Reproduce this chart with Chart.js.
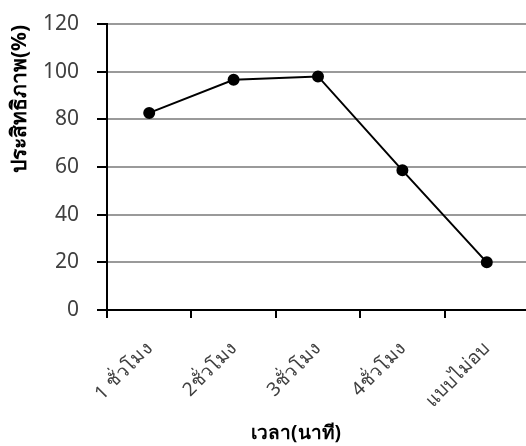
<!DOCTYPE html>
<html>
<head>
<meta charset="utf-8">
<script src="https://cdn.jsdelivr.net/npm/chart.js@4/dist/chart.umd.min.js"></script>
<style>
  html, body { margin: 0; padding: 0; background: #fff; overflow: hidden; }
  #wrap { width: 536px; height: 446px; }
</style>
</head>
<body>
<div id="wrap"><canvas id="c" width="536" height="446"></canvas></div>
<script>
// Drying time categories and measured efficiency (%)
const timeLabels = ['1 ชั่วโมง', '2ชั่วโมง', '3ชั่วโมง', '4ชั่วโมง', 'แบบไม่อบ'];
const efficiency = [82.7, 96.6, 98.0, 58.6, 20.0];
const yTickValues = [0, 20, 40, 60, 80, 100, 120];

const xTitle = 'เวลา(นาที)';
const yTitle = 'ประสิทธิภาพ(%)';
const fontFamily = "'Noto Sans', 'DejaVu Sans', sans-serif";

// Axis titles drawn relative to the chart area
const axisTitles = {
  id: 'axisTitles',
  afterDraw(chart) {
    const { ctx, chartArea } = chart;
    ctx.save();
    ctx.fillStyle = '#000';
    ctx.textAlign = 'center';
    ctx.textBaseline = 'middle';
    ctx.font = `bold 19px ${fontFamily}`;
    ctx.fillText(xTitle, chartArea.left + 189, 434);
    ctx.font = `bold 21px ${fontFamily}`;
    ctx.translate(20, chartArea.top + 75);
    ctx.rotate(-Math.PI / 2);
    ctx.fillText(yTitle, 0, 0);
    ctx.restore();
  }
};

new Chart(document.getElementById('c'), {
  type: 'line',
  data: {
    labels: timeLabels,
    datasets: [{
      data: efficiency,
      borderColor: '#000',
      backgroundColor: '#000',
      borderWidth: 2,
      pointRadius: 5,
      pointHoverRadius: 5,
      pointBackgroundColor: '#000',
      pointBorderColor: '#000',
      tension: 0,
      fill: false
    }]
  },
  options: {
    responsive: false,
    animation: false,
    devicePixelRatio: 1,
    layout: { padding: { top: 24, right: 0, left: 0, bottom: 0 } },
    plugins: { legend: { display: false }, tooltip: { enabled: false } },
    scales: {
      x: {
        offset: true,
        grid: {
          offset: true,
          drawOnChartArea: false,
          drawTicks: true,
          tickLength: 8,
          tickColor: '#000',
          tickWidth: 2,
          lineWidth: 2,
          color: '#000'
        },
        border: { display: true, color: '#000', width: 2 },
        ticks: {
          minRotation: 45,
          maxRotation: 45,
          padding: 20,
          color: '#404040',
          font: { family: fontFamily, size: 19 }
        },
        afterFit(scale) {
          scale.height = 136;
          scale.paddingLeft = 0;
          scale.paddingRight = 0;
        }
      },
      y: {
        min: 0,
        max: 120,
        afterBuildTicks(scale) { scale.ticks = yTickValues.map(v => ({ value: v })); },
        grid: {
          color: '#9a9a9a',
          lineWidth: 2,
          drawTicks: true,
          tickLength: 10,
          tickColor: '#000',
          tickWidth: 2
        },
        border: { display: true, color: '#000', width: 2 },
        ticks: {
          padding: 18,
          color: '#404040',
          font: { family: fontFamily, size: 21 }
        },
        afterFit(scale) {
          scale.width = 107;
          scale.paddingTop = 0;
          scale.paddingBottom = 0;
        }
      }
    }
  },
  plugins: [axisTitles]
});
</script>
</body>
</html>
